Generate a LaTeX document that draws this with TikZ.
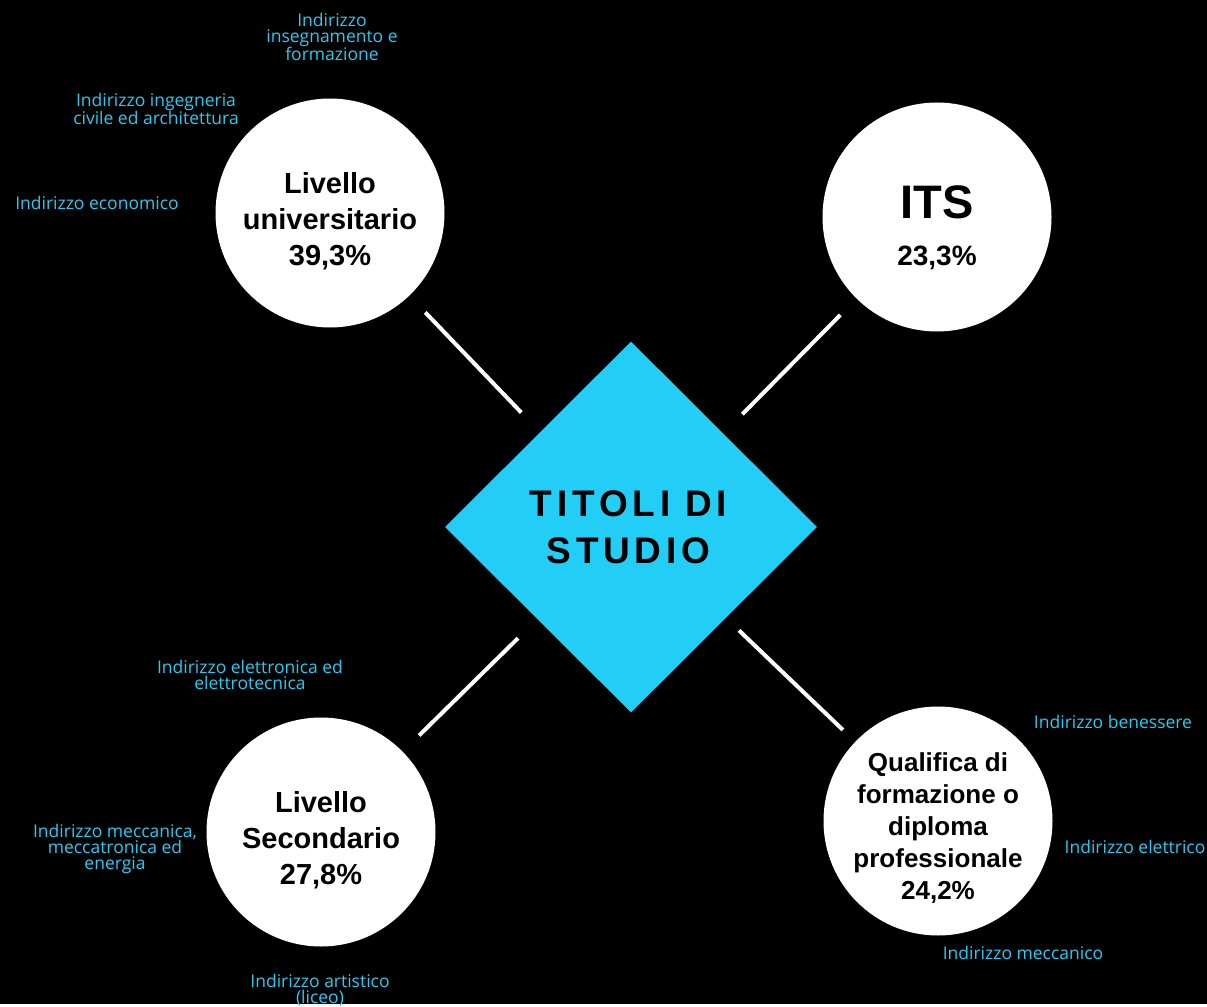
\documentclass[tikz,border=0pt]{standalone}
\usepackage{fontspec}
\setmainfont{Liberation Sans}
\newfontfamily\titfont[LetterSpace=13]{Liberation Sans}
\newfontfamily\vocefont{Open Sans}
\usetikzlibrary{shapes.geometric}
\definecolor{ciano}{RGB}{34,206,245}
% 首行加高,使圆内文字略微下移
\newcommand\primariga[1]{\rule{0pt}{#1}}

\begin{document}
\begin{tikzpicture}[x=1pt, y=-1pt,
        cerchio/.style={circle, fill=white, minimum size=229pt, inner sep=-12pt,
            align=center, font=\bfseries\fontsize{29}{36}\selectfont},
        voce/.style={text=ciano, align=center, inner sep=0pt,
            font=\vocefont\fontsize{17.5}{16}\selectfont},
        ramo/.style={white, line width=4pt, shorten <=23pt, shorten >=27pt}]
        % 背景(坐标以像素为单位,y轴向下)
        \fill[black] (0, 0) rectangle (1207, 1004);

        % 中心菱形
        \node[diamond, fill=ciano, minimum width=372pt, minimum height=371pt,
            inner sep=0pt, align=center,
            font=\titfont\bfseries\fontsize{37}{47}\selectfont]
            (titoli) at (631, 527) {\hspace*{-5pt}TITOLI DI\\\hspace*{-5pt}STUDIO};

        % 四个圆
        \node[cerchio] (uni) at (330, 213)
            {\primariga{37pt}Livello\\universitario\\39,3\%};
        \node[cerchio, font=\bfseries\fontsize{28}{47}\selectfont] (its) at (937, 217)
            {\primariga{54pt}{\fontsize{47}{47}\selectfont ITS}\\23,3\%};
        \node[cerchio] (sec) at (321, 832)
            {\primariga{37pt}Livello\\Secondario\\27,8\%};
        \node[cerchio, font=\bfseries\fontsize{26}{32}\selectfont] (qual) at (938, 821)
            {\primariga{33pt}Qualifica di\\formazione o\\diploma\\professionale\\24,2\%};

        % 连线
        \draw[ramo] (uni) -- (titoli);
        \draw[ramo] (its) -- (titoli);
        \draw[ramo] (sec) -- (titoli);
        \draw[ramo, shorten <=17pt, shorten >=18pt] (qual) -- (titoli);

        % 各方向的文字
        \node[voce] (insegn) at (332, 37) {Indirizzo\\insegnamento e\\formazione};
        \node[voce] (ingegn) at (156, 109) {Indirizzo ingegneria\\civile ed architettura};
        \node[voce] (econ) at (97, 203) {Indirizzo economico};
        \node[voce] (elettron) at (250, 675) {Indirizzo elettronica ed\\elettrotecnica};
        \node[voce] (meccan) at (115, 849) {Indirizzo meccanica,\\meccatronica ed\\energia};
        \node[voce] (artist) at (320, 990) {Indirizzo artistico\\(liceo)};
        \node[voce] (benes) at (1113, 722) {Indirizzo benessere};
        \node[voce] (elettr) at (1135, 847) {Indirizzo elettrico};
        \node[voce] (meccanico) at (1023, 953) {Indirizzo meccanico};
    \end{tikzpicture}
\end{document}
